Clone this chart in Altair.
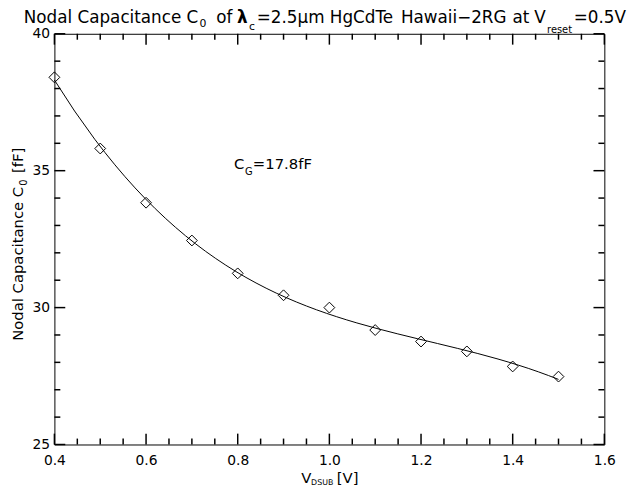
import altair as alt
import pandas as pd

# ---- data ----
v_dsub = [0.4, 0.5, 0.6, 0.7, 0.8, 0.9, 1.0, 1.1, 1.2, 1.3, 1.4, 1.5]
c_nodal = [38.41, 35.81, 33.83, 32.45, 31.25, 30.45, 30.00, 29.18, 28.76, 28.40, 27.85, 27.48]

x_major = [0.4, 0.6, 0.8, 1.0, 1.2, 1.4, 1.6]
x_minor = [0.45, 0.5, 0.55, 0.65, 0.7, 0.75, 0.85, 0.9, 0.95,
           1.05, 1.1, 1.15, 1.25, 1.3, 1.35, 1.45, 1.5, 1.55]
y_major = [25, 30, 35, 40]
y_minor = [26, 27, 28, 29, 31, 32, 33, 34, 36, 37, 38, 39]

df = pd.DataFrame({"v": v_dsub, "c": c_nodal})
ONE = pd.DataFrame({"k": [0]})

FONT = "DejaVu Sans"
W, H = 557, 416
OX, OY = 55, 31  # plot origin on the page
MAJ, MIN = 11, 6
TK = 1.5  # tick thickness


def xs():
    return alt.Scale(domain=[0.4, 1.6], nice=False, zero=False)


def ys():
    return alt.Scale(domain=[25, 40], nice=False, zero=False)


def lab_axis(orient, values, fmt, pad):
    return alt.Axis(orient=orient, values=values, tickSize=0, ticks=False,
                    domain=False, grid=False, title=None,
                    labelFont=FONT, labelFontSize=14, labelColor="black",
                    labelPadding=pad, format=fmt, labelFlush=False,
                    labelOverlap=False, labelBound=False)


def xticks(values, top, length):
    # inward tick marks on the top / bottom frame edge (centre placed inside)
    d = pd.DataFrame({"t": values})
    yc = length / 2 if top else H - length / 2
    return alt.Chart(d).mark_tick(color="black", thickness=TK, size=length,
                                  orient="vertical", opacity=1).encode(
        x=alt.X("t:Q", scale=xs(), axis=None),
        y=alt.value(yc))


def yticks(values, right, length):
    # inward tick marks on the left / right frame edge (centre placed inside)
    d = pd.DataFrame({"t": values})
    xc = W - length / 2 if right else length / 2
    return alt.Chart(d).mark_tick(color="black", thickness=TK, size=length,
                                  orient="horizontal", opacity=1).encode(
        y=alt.Y("t:Q", scale=ys(), axis=None),
        x=alt.value(xc))


def txt(s, x, y, size, angle=0, weight="normal", align="left"):
    return alt.Chart(ONE).mark_text(
        text=s, font=FONT, fontSize=size, fontWeight=weight, align=align,
        baseline="alphabetic", angle=angle, color="black"
    ).encode(x=alt.value(x - OX), y=alt.value(y - OY))


ticks = [
    xticks(x_minor, False, MIN), xticks(x_minor, True, MIN),
    xticks(x_major, False, MAJ), xticks(x_major, True, MAJ),
    yticks(y_minor, False, MIN), yticks(y_minor, True, MIN),
    yticks(y_major, False, MAJ), yticks(y_major, True, MAJ),
]

base = alt.Chart(df)
fit = base.transform_regression("v", "c", method="poly", order=3).mark_line(
    color="black", strokeWidth=1
).encode(
    x=alt.X("v:Q", scale=xs(), axis=None),
    y=alt.Y("c:Q", scale=ys(), axis=None),
)
pts = base.mark_point(shape="diamond", size=120, filled=False, color="black",
                      strokeWidth=1, opacity=1).encode(
    x=alt.X("v:Q", scale=xs(), axis=lab_axis("bottom", x_major, ".1f", 9)),
    y=alt.Y("c:Q", scale=ys(), axis=lab_axis("left", y_major, "d", 5)),
)

TS = 17
TB = 20
title_parts = [
    txt("Nodal Capacitance C", 24, TB, TS),
    txt("0", 202, TB + 4, 11),
    txt("of", 219, TB, TS),
    txt("λ", 240, TB, TS, weight="bold"),
    txt("c", 252, TB + 7, 11),
    txt("=2.5μm", 260, TB, TS),
    txt("HgCdTe", 334, TB, TS),
    txt("Hawaii−2RG", 406, TB, TS),
    txt("at", 519, TB, TS),
    txt("V", 541, TB, TS),
    txt("reset", 554, TB + 10, 10),
    txt("=0.5V", 581, TB, TS),
]

AS = 15
ylab = [
    txt("Nodal Capacitance C", 23, 342, AS, angle=270),
    txt("0", 27, 185, 10, angle=270),
    txt("[fF]", 23, 172, AS, angle=270),
]
xlab = [
    txt("V", 305, 486, AS),
    txt("DSUB", 315, 488, 8),
    txt("[V]", 341, 486, AS),
]
annot = [
    txt("C", 237, 168, 15),
    txt("G", 248, 174, 10),
    txt("=17.8fF", 256, 168, 15),
]

chart = alt.layer(
    fit, pts, *ticks, *title_parts, *ylab, *xlab, *annot
).resolve_scale(
    x="independent", y="independent"
).properties(
    width=W, height=H,
    autosize=alt.AutoSizeParams(type="none"),
    padding={"left": OX - 8, "top": OY - 8, "right": 27, "bottom": 45},
    background="white",
).configure_view(
    stroke="black", strokeWidth=1
)

chart.save("out.html", embed_options={"renderer": "svg", "actions": False})
